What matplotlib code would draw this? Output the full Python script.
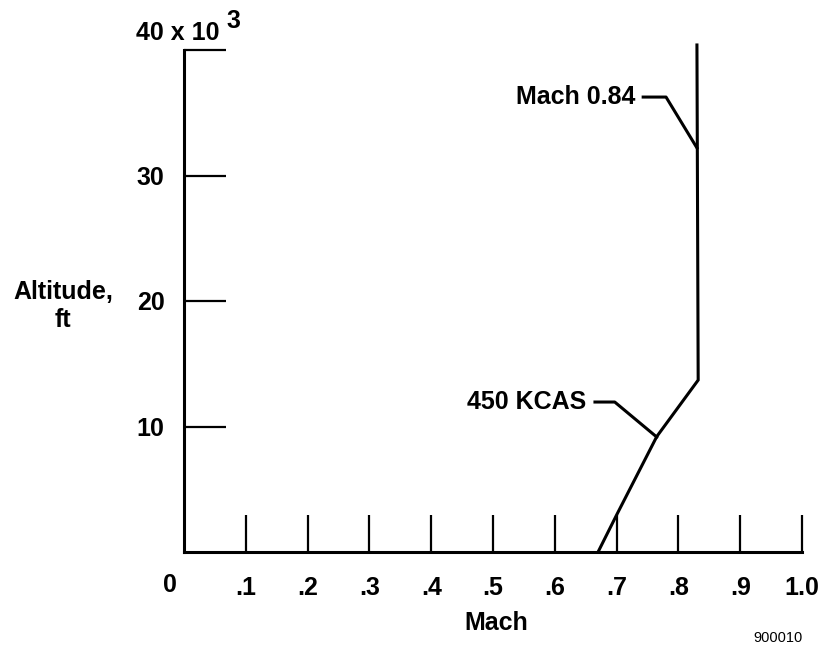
import matplotlib
matplotlib.use('Agg')
import matplotlib.pyplot as plt

plt.rcParams['font.family'] = ['Liberation Sans', 'DejaVu Sans']
plt.rcParams['font.weight'] = 'bold'

# schedule: 450 KCAS up to the Mach 0.84 crossover, then constant Mach
mach = [0.670, 0.700, 0.765, 0.832, 0.830]
altitude = [0.0, 2.95, 9.2, 13.7, 40.4]   # thousands of ft

x_ticks = [0.1, 0.2, 0.3, 0.4, 0.5, 0.6, 0.7, 0.8, 0.9, 1.0]
x_labels = ['.1', '.2', '.3', '.4', '.5', '.6', '.7', '.8', '.9', '1.0']
y_ticks = [10, 20, 30, 40]
y_labels = ['10', '20', '30', '']

# leader lines (label end -> point on curve)
mach_leader_x = [0.743, 0.780, 0.830]
mach_leader_y = [36.25, 36.25, 32.2]
kcas_leader_x = [0.665, 0.697, 0.765]
kcas_leader_y = [11.95, 11.95, 9.16]

fig = plt.figure(figsize=(8.25, 6.48), dpi=100)
ax = fig.add_axes([184 / 825, 96 / 648, 618 / 825, 502 / 648])

ax.plot(mach, altitude, color='black', lw=2.2, clip_on=False, solid_joinstyle='miter')
ax.plot(mach_leader_x, mach_leader_y, color='black', lw=2.2, clip_on=False)
ax.plot(kcas_leader_x, kcas_leader_y, color='black', lw=2.2, clip_on=False)

ax.text(0.730, 36.25, 'Mach 0.84', ha='right', va='center', fontsize=18, fontweight='bold')
ax.text(0.651, 11.95, '450 KCAS', ha='right', va='center', fontsize=18, fontweight='bold')

ax.set_xlim(0, 1.0)
ax.set_ylim(0, 40)
for side in ['top', 'right']:
    ax.spines[side].set_visible(False)
for side in ['left', 'bottom']:
    ax.spines[side].set_linewidth(2.2)

ax.set_xticks(x_ticks)
ax.set_xticklabels(x_labels)
ax.set_yticks(y_ticks)
ax.set_yticklabels(y_labels)
ax.tick_params(axis='x', direction='in', length=27, width=1.6, pad=17, labelsize=18)
ax.tick_params(axis='y', direction='in', length=30, width=1.6, pad=14, labelsize=18)
for lab in ax.get_xticklabels() + ax.get_yticklabels():
    lab.set_fontweight('bold')

# origin label and the exponent on the top tick
ax.text(-0.023, -2.6, '0', ha='center', va='center', fontsize=18, fontweight='bold', clip_on=False)
ax.text(0.058, 41.35, '40 x 10', ha='right', va='center', fontsize=18, fontweight='bold')
ax.text(0.069, 42.3, '3', ha='left', va='center', fontsize=18, fontweight='bold')

fig.text(63 / 825, 1 - 306 / 648, 'Altitude,\nft', ha='center', va='center',
         fontsize=18, fontweight='bold', linespacing=1.25)
fig.text(496 / 825, 1 - 623 / 648, 'Mach', ha='center', va='center', fontsize=18, fontweight='bold')
fig.text(778 / 825, 1 - 638 / 648, '900010', ha='center', va='center', fontsize=10.5, fontweight='normal')

fig.savefig('out.png', dpi=100)
